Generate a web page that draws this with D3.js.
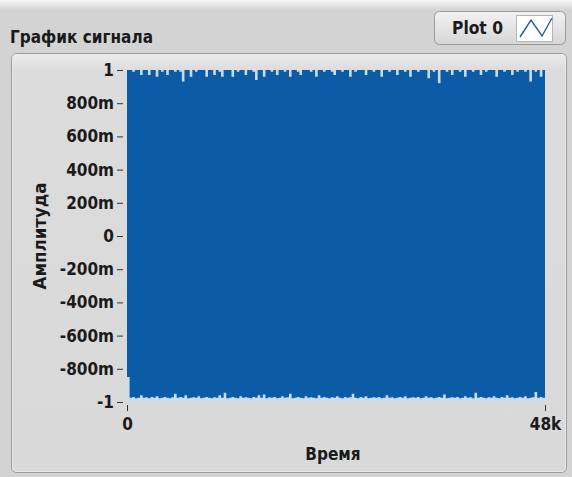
<!DOCTYPE html>
<html>
<head>
<meta charset="utf-8">
<script src="https://cdn.jsdelivr.net/npm/d3@7"></script>
<style>
  html, body { margin: 0; padding: 0; background: #d3d3d3; }
  svg { display: block; }
  text { font-family: 'DejaVu Sans Condensed', 'DejaVu Sans', sans-serif; font-stretch: condensed; font-weight: bold; fill: #1a1a1a; }
</style>
</head>
<body>
<script>
// Waveform: 48k samples, summarised as min/max of the dense core per block of 300 samples
const sampleCount = 48000;
const blockSize = 300;
const signalMax = 1.0;
const signalMin = -0.995;

const coreUpper = [
  1,1,0.99,1,1,0.97,1,1,0.97,1,1,0.96,1,0.99,1,0.97,1,1,0.99,1,
  0.99,0.93,1,1,0.96,1,0.99,1,1,1,0.96,1,1,0.97,1,0.99,0.96,1,1,1,
  0.96,1,0.99,1,1,0.97,1,1,0.99,0.94,1,1,0.96,1,1,0.99,1,0.97,1,1,
  0.99,1,0.96,1,1,0.99,0.97,1,1,1,0.99,1,0.96,1,1,0.99,1,1,0.99,0.97,
  1,1,0.99,1,1,0.96,1,0.99,1,1,1,0.97,1,1,0.99,1,1,0.96,1,1,
  0.99,1,1,0.97,1,1,0.99,1,0.96,1,1,0.99,1,1,1,0.95,1,0.99,1,0.92,
  1,1,0.99,1,0.97,1,1,0.99,1,0.96,1,1,0.99,1,1,0.97,1,0.99,1,1,
  1,0.96,1,1,0.99,1,1,0.97,1,0.99,1,1,0.99,1,0.93,1,0.99,1,0.96,1
];

const coreLower = [
  -0.85,-0.975,-0.97,-0.978,-0.975,-0.96,-0.975,-0.972,-0.978,-0.97,-0.975,-0.965,-0.978,-0.975,-0.97,-0.975,-0.978,-0.972,-0.95,-0.975,
  -0.97,-0.975,-0.96,-0.978,-0.975,-0.972,-0.975,-0.965,-0.978,-0.975,-0.97,-0.975,-0.978,-0.972,-0.975,-0.96,-0.975,-0.945,-0.978,-0.975,
  -0.97,-0.975,-0.978,-0.965,-0.975,-0.972,-0.975,-0.978,-0.97,-0.975,-0.96,-0.975,-0.955,-0.978,-0.972,-0.975,-0.97,-0.978,-0.975,-0.965,
  -0.975,-0.972,-0.95,-0.978,-0.975,-0.97,-0.975,-0.978,-0.965,-0.975,-0.972,-0.975,-0.978,-0.96,-0.975,-0.97,-0.975,-0.978,-0.972,-0.975,
  -0.965,-0.975,-0.978,-0.97,-0.975,-0.972,-0.95,-0.975,-0.978,-0.97,-0.975,-0.965,-0.978,-0.975,-0.972,-0.975,-0.97,-0.978,-0.975,-0.96,
  -0.975,-0.972,-0.978,-0.975,-0.97,-0.975,-0.965,-0.978,-0.975,-0.972,-0.975,-0.97,-0.978,-0.975,-0.965,-0.975,-0.972,-0.978,-0.975,-0.97,
  -0.975,-0.955,-0.978,-0.975,-0.972,-0.975,-0.97,-0.978,-0.975,-0.965,-0.975,-0.972,-0.978,-0.945,-0.975,-0.97,-0.975,-0.978,-0.972,-0.975,
  -0.965,-0.975,-0.978,-0.97,-0.975,-0.96,-0.975,-0.972,-0.978,-0.975,-0.97,-0.975,-0.965,-0.978,-0.975,-0.972,-0.94,-0.975,-0.97,-0.975
];

const yTickValues = [1, 0.8, 0.6, 0.4, 0.2, 0, -0.2, -0.4, -0.6, -0.8, -1];
const yTickLabels = ["1", "800m", "600m", "400m", "200m", "0", "-200m", "-400m", "-600m", "-800m", "-1"];
const xTickValues = [0, 48000];
const xTickLabels = ["0", "48k"];

const titleText = "График сигнала";
const xTitle = "Время";
const yTitle = "Амплитуда";
const legendLabel = "Plot 0";

const W = 572, H = 477;
const plot = { left: 127, right: 545, top: 70, bottom: 402 };
const labelSize = 17;

const svg = d3.select("body").append("svg").attr("width", W).attr("height", H);
const defs = svg.append("defs");

const topGrad = defs.append("linearGradient").attr("id", "topGrad").attr("x1", 0).attr("y1", 0).attr("x2", 0).attr("y2", 1);
topGrad.append("stop").attr("offset", 0).attr("stop-color", "#f6f6f6");
topGrad.append("stop").attr("offset", 1).attr("stop-color", "#d3d3d3");

const panelGrad = defs.append("linearGradient").attr("id", "panelGrad").attr("x1", 0).attr("y1", 0).attr("x2", 0).attr("y2", 1);
panelGrad.append("stop").attr("offset", 0).attr("stop-color", "#ececec");
panelGrad.append("stop").attr("offset", 0.04).attr("stop-color", "#dcdcdc");
panelGrad.append("stop").attr("offset", 1).attr("stop-color", "#d9d9d9");

const legendGrad = defs.append("linearGradient").attr("id", "legendGrad").attr("x1", 0).attr("y1", 0).attr("x2", 0).attr("y2", 1);
legendGrad.append("stop").attr("offset", 0).attr("stop-color", "#f2f2f2");
legendGrad.append("stop").attr("offset", 1).attr("stop-color", "#d6d6d6");

// Window background
svg.append("rect").attr("width", W).attr("height", H).attr("fill", "#d3d3d3");
svg.append("rect").attr("width", W).attr("height", 10).attr("fill", "url(#topGrad)");

// Graph title
svg.append("text").attr("x", 10).attr("y", 43)
  .attr("font-size", 17).attr("textLength", 143).attr("lengthAdjust", "spacingAndGlyphs")
  .text(titleText);

// Plot legend
const lg = svg.append("g");
lg.append("rect").attr("x", 434.5).attr("y", 11.5).attr("width", 131).attr("height", 33).attr("rx", 5)
  .attr("fill", "url(#legendGrad)").attr("stroke", "#9a9a9a");
lg.append("text").attr("x", 452).attr("y", 34).attr("font-size", 17)
  .attr("textLength", 51).attr("lengthAdjust", "spacingAndGlyphs").text(legendLabel);
lg.append("rect").attr("x", 516.5).attr("y", 15.5).attr("width", 36).attr("height", 26)
  .attr("fill", "#ffffff").attr("stroke", "#b5b5b5");
lg.append("path").attr("d", d3.line()([[520, 37], [531, 20], [542, 36], [552, 18]]))
  .attr("fill", "none").attr("stroke", "#1f5fa8").attr("stroke-width", 1.4);

// Plot panel
svg.append("rect").attr("x", 11.5).attr("y", 53.5).attr("width", 555).attr("height", 419).attr("rx", 5)
  .attr("fill", "url(#panelGrad)").attr("stroke", "#9a9a9a");
svg.append("rect").attr("x", 12.5).attr("y", 54.5).attr("width", 553).attr("height", 417).attr("rx", 4)
  .attr("fill", "none").attr("stroke", "#f0f0f0").attr("stroke-opacity", 0.7);

const x = d3.scaleLinear().domain([0, sampleCount]).range([plot.left, plot.right]);
const y = d3.scaleLinear().domain([-1, 1]).range([plot.bottom, plot.top]);

// Sparse extremes of the waveform
svg.append("rect")
  .attr("x", x(0)).attr("width", x(sampleCount) - x(0))
  .attr("y", y(signalMax)).attr("height", y(signalMin) - y(signalMax))
  .attr("fill", "#c9ddef");

// Dense core of the waveform, block by block
const blocks = coreUpper.map((u, i) => ({ t: i * blockSize, hi: u, lo: coreLower[i] }));
blocks.push({ t: blocks.length * blockSize, hi: coreUpper[coreUpper.length - 1], lo: coreLower[coreLower.length - 1] });
const area = d3.area()
  .curve(d3.curveStepAfter)
  .x(d => x(d.t))
  .y0(d => y(d.lo))
  .y1(d => y(d.hi));
svg.append("path").datum(blocks).attr("d", area).attr("fill", "#0b5ba7");

// Axes
const yAxis = d3.axisLeft(y).tickValues(yTickValues).tickSize(6).tickPadding(3)
  .tickFormat((d, i) => yTickLabels[i]);
const gy = svg.append("g").attr("transform", `translate(${plot.left - 4},0)`).call(yAxis);
gy.select(".domain").remove();
gy.selectAll(".tick line").attr("stroke", "#333");

const xAxis = d3.axisBottom(x).tickValues(xTickValues).tickSize(6).tickPadding(7)
  .tickFormat((d, i) => xTickLabels[i]);
const gx = svg.append("g").attr("transform", `translate(0,${plot.bottom + 3})`).call(xAxis);
gx.select(".domain").remove();
gx.selectAll(".tick line").attr("stroke", "#333");

svg.selectAll("g").attr("font-family", null).attr("font-size", null);
gy.selectAll(".tick text").attr("font-size", labelSize).attr("fill", "#1a1a1a");
gx.selectAll(".tick text").attr("font-size", labelSize).attr("fill", "#1a1a1a");

// Axis titles
svg.append("text").attr("x", (plot.left + plot.right) / 2 - 3).attr("y", 460)
  .attr("text-anchor", "middle").attr("font-size", labelSize).text(xTitle);
svg.append("text").attr("transform", `translate(46,236) rotate(-90)`)
  .attr("text-anchor", "middle").attr("font-size", labelSize)
  .attr("textLength", 107).attr("lengthAdjust", "spacingAndGlyphs").text(yTitle);
</script>
</body>
</html>
